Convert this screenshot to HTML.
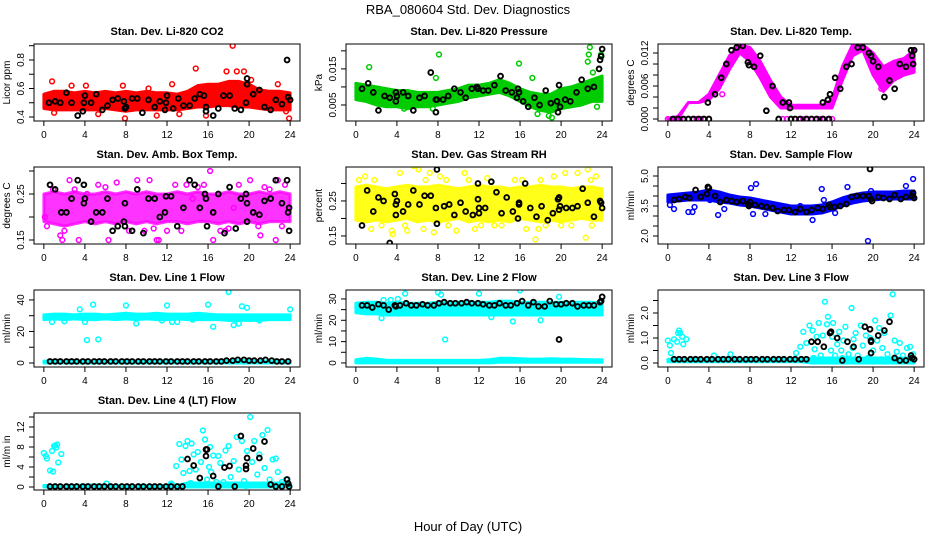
<!DOCTYPE html>
<html><head><meta charset="utf-8"><style>
html,body{margin:0;padding:0;background:#fff;}
svg{display:block;font-family:"Liberation Sans",sans-serif;}
</style></head><body>
<svg id="chart" width="936" height="540" viewBox="0 0 936 540" xmlns="http://www.w3.org/2000/svg">
<rect x="0" y="0" width="936" height="540" fill="#fff"/>
<text x="468" y="14" font-size="13" text-anchor="middle">RBA_080604  Std. Dev. Diagnostics</text>
<text x="468" y="531" font-size="13" text-anchor="middle">Hour of Day (UTC)</text>
</svg>
<script>
const HRS=[0,1,2,3,4,5,6,7,8,9,10,11,12,13,14,15,16,17,18,19,20,21,22,23,24];
const XTICKS=[0,4,8,12,16,20,24];
const FULLT=[0.6,1.1,1.6,2.2,2.7,3.2,3.8,4.3,4.9,5.4,5.9,6.5,7.0,7.6,8.1,8.6,9.2,9.7,10.3,10.8,11.3,11.9,12.4,13.0,13.5,14.0,14.6,15.1,15.7,16.2,16.8,17.3,17.8,18.4,18.9,19.5,20.0,20.5,21.1,21.6,22.2,22.7,23.2,23.8];
const EARLYT=[0.6,1.1,1.6,2.2,2.7,3.2,3.8,4.3,4.9,5.4,5.9,6.5,7.0,7.6,8.1,8.6,9.2,9.7,10.3,10.8,11.3,11.9,12.4,13.0,13.5];

// CO2
const co2Lo=[0.46,0.45,0.45,0.45,0.45,0.45,0.46,0.45,0.44,0.45,0.45,0.45,0.45,0.45,0.46,0.47,0.47,0.48,0.48,0.47,0.47,0.46,0.45,0.45,0.45];
const co2Hi=[0.56,0.58,0.58,0.57,0.58,0.57,0.58,0.57,0.58,0.57,0.58,0.57,0.57,0.56,0.58,0.62,0.63,0.63,0.65,0.65,0.63,0.59,0.58,0.58,0.57];
const co2OutX=[0.8,2.7,4.1,7.7,10.2,12.5,14.8,17.8,18.4,18.8,19.5,20.2,22.8,23.9,7.9,11.0,15.8,5.3,1.0,13.2,23.6];
const co2OutY=[0.65,0.62,0.62,0.62,0.6,0.63,0.74,0.72,0.9,0.72,0.72,0.66,0.63,0.39,0.39,0.41,0.41,0.42,0.43,0.42,0.44];
const co2BlkX=[0.5,1.1,1.6,2.2,2.7,3.3,3.8,3.9,4.0,4.6,5.1,5.7,6.2,6.7,7.2,7.8,7.9,8.0,8.6,9.1,9.6,10.2,10.8,11.3,11.8,11.9,12.0,12.6,13.1,13.6,14.2,14.7,15.2,15.6,15.8,15.8,16.5,17.0,17.5,18.1,18.6,19.2,19.7,19.8,19.8,20.4,21.0,21.5,22.1,22.6,23.2,23.7,23.8,24.0];
const co2BlkY=[0.5,0.51,0.5,0.57,0.5,0.41,0.44,0.5,0.55,0.5,0.56,0.45,0.48,0.52,0.53,0.51,0.46,0.47,0.53,0.53,0.43,0.52,0.47,0.51,0.45,0.5,0.55,0.46,0.53,0.48,0.48,0.53,0.56,0.55,0.47,0.44,0.41,0.46,0.55,0.55,0.46,0.45,0.5,0.67,0.63,0.56,0.59,0.47,0.45,0.52,0.49,0.8,0.54,0.52];

// Pressure
const prLo=[0.0065,0.006,0.005,0.0045,0.0045,0.004,0.0045,0.0045,0.005,0.0055,0.006,0.007,0.0075,0.008,0.0085,0.0075,0.006,0.0045,0.0035,0.003,0.004,0.0045,0.005,0.006,0.006];
const prHi=[0.011,0.0105,0.01,0.0095,0.009,0.009,0.0085,0.0085,0.0085,0.009,0.0095,0.0105,0.0105,0.011,0.012,0.011,0.0095,0.0085,0.008,0.008,0.0095,0.01,0.011,0.012,0.013];
const prOutX=[1.3,8.1,7.8,15.9,17.2,22.7,22.8,22.6,23.1,23.9,23.5,18.8,19.1,17.7,4.7,7.5];
const prOutY=[0.0155,0.019,0.0125,0.0165,0.0125,0.019,0.021,0.017,0.014,0.019,0.0045,0.002,0.0015,0.0025,0.004,0.004];
const prBlkX=[0.6,1.2,1.7,2.2,2.8,3.3,3.9,3.9,4.0,4.6,5.1,5.6,6.2,6.7,7.3,7.8,7.8,7.9,8.5,9.0,9.6,10.2,10.7,11.3,11.8,11.9,12.4,12.9,13.5,14.1,14.6,15.2,15.7,15.8,15.9,16.3,16.8,17.4,17.9,18.5,19.0,19.6,19.7,19.8,19.9,20.4,20.9,21.5,22.0,22.6,23.2,23.7,23.8,23.9,24.0];
const prBlkY=[0.0095,0.011,0.0085,0.0035,0.0075,0.007,0.0085,0.006,0.0075,0.0085,0.0075,0.0035,0.007,0.0075,0.014,0.0065,0.003,0.0065,0.0065,0.0075,0.0095,0.0085,0.007,0.0095,0.01,0.0095,0.009,0.009,0.0105,0.013,0.009,0.0085,0.007,0.0095,0.0085,0.006,0.0045,0.007,0.005,0.009,0.0055,0.006,0.003,0.0105,0.0045,0.0065,0.006,0.0085,0.012,0.0095,0.01,0.015,0.0175,0.0185,0.0205];

// Li-820 Temp
const ltLo=[0,0,0.003,0.003,0.0035,0.0055,0.009,0.012,0.0105,0.0075,0.004,0.002,0.002,0.002,0.002,0.002,0.002,0.007,0.0115,0.0125,0.008,0.005,0.007,0.008,0.0085];
const ltHi=[0,0.0005,0.003,0.003,0.0045,0.008,0.0115,0.0135,0.013,0.0105,0.007,0.004,0.0025,0.0025,0.0025,0.0025,0.0035,0.0095,0.0135,0.0135,0.012,0.0095,0.0105,0.011,0.0125];
const ltOutX=[0,0.4,0.8,1.2,1.6,2.0,2.4,2.8,3.2,3.6,4.0,10.8,11.2,11.6,12.0,12.4,12.8,13.2,13.6,14.0,14.4,14.8,15.2,15.6,16.0,5.3,9.6,20.8];
const ltOutY=[0,0,0,0,0,0,0,0,0,0,0,0,0,0,0,0,0,0,0,0,0,0,0,0,0,0.0045,0.0015,0.0055];
const ltBlkX=[0.5,1.0,1.5,2.0,2.5,3.0,3.5,4.0,3.9,4.6,5.2,5.7,6.2,6.7,7.3,7.8,7.9,8.4,9.0,9.6,10.2,10.8,11.2,11.8,11.9,12.0,12.4,12.9,13.5,14.0,14.5,15.1,15.7,15.1,15.6,15.8,16.3,16.8,17.4,17.9,18.5,19.0,19.6,19.8,20.0,20.5,21.1,21.6,22.1,22.6,23.2,23.7,23.8,23.9,24.0];
const ltBlkY=[0,0,0,0,0,0,0,0,0.003,0.0045,0.0075,0.01,0.0125,0.013,0.0133,0.0103,0.0098,0.0095,0.0115,0.0015,0.006,0,0.003,0.003,0.002,0,0,0,0,0,0,0,0,0.003,0.0035,0.0045,0.0075,0.0055,0.0095,0.01,0.013,0.013,0.012,0.0115,0.0105,0.0095,0.004,0.007,0.0055,0.01,0.0095,0.0125,0.0115,0.01,0.0125];

// Amb box temp
const btLo=[0.19,0.185,0.18,0.185,0.19,0.185,0.19,0.185,0.19,0.185,0.19,0.185,0.19,0.19,0.185,0.19,0.19,0.185,0.19,0.185,0.19,0.185,0.19,0.19,0.19];
const btHi=[0.25,0.255,0.25,0.255,0.25,0.25,0.255,0.25,0.255,0.25,0.255,0.25,0.25,0.255,0.25,0.255,0.25,0.25,0.255,0.25,0.25,0.255,0.25,0.255,0.25];
const btOutX=[0.1,0.3,0.6,1.6,1.8,2.5,3.4,4.2,6.3,7.1,7.9,9.1,10.3,11.0,11.2,12.0,14.5,15.6,16.2,16.5,18.5,19.0,20.1,21.1,22.0,22.6,22.8,23.5,0.9,5.3,8.3,13.4,17.7,20.9,2.0,6.0,9.8,12.8,15.0,18.0,21.5,3.0,10.7,13.9,17.2,23.2];
const btOutY=[0.2,0.18,0.27,0.16,0.15,0.28,0.15,0.25,0.15,0.275,0.18,0.28,0.28,0.15,0.15,0.17,0.24,0.27,0.30,0.15,0.22,0.27,0.28,0.16,0.26,0.15,0.28,0.27,0.26,0.27,0.17,0.17,0.17,0.18,0.17,0.265,0.17,0.27,0.265,0.175,0.265,0.26,0.175,0.27,0.17,0.18];
const btBlkX=[0.6,1.1,1.7,2.2,2.7,3.3,3.9,3.9,4.0,4.6,5.1,5.7,6.2,6.7,7.2,7.8,7.9,7.9,8.6,9.1,9.7,10.2,10.8,11.3,11.8,11.9,12.4,13.0,13.6,14.2,14.7,15.2,15.7,15.8,15.9,16.5,17.0,17.6,18.1,18.7,19.2,19.7,19.8,19.8,20.4,21.0,21.5,22.1,22.6,23.2,23.7,23.8,23.9,23.9];
const btBlkY=[0.27,0.26,0.21,0.21,0.24,0.28,0.27,0.23,0.24,0.19,0.21,0.21,0.24,0.17,0.18,0.19,0.23,0.18,0.17,0.26,0.165,0.24,0.24,0.2,0.21,0.245,0.245,0.18,0.22,0.28,0.27,0.22,0.25,0.24,0.18,0.21,0.25,0.165,0.265,0.175,0.24,0.25,0.23,0.19,0.21,0.205,0.235,0.24,0.28,0.23,0.28,0.21,0.22,0.17];

// Gas stream RH
const rhLo=[0.195,0.19,0.195,0.19,0.195,0.2,0.19,0.195,0.19,0.195,0.2,0.19,0.195,0.19,0.195,0.19,0.2,0.195,0.19,0.195,0.19,0.195,0.2,0.195,0.195];
const rhHi=[0.29,0.295,0.29,0.285,0.29,0.295,0.29,0.29,0.295,0.29,0.285,0.29,0.295,0.29,0.29,0.285,0.29,0.29,0.295,0.29,0.29,0.285,0.29,0.29,0.285];
const rhOutX=[0.9,1.5,3.5,3.6,4.3,5.0,5.6,6.1,6.6,7.2,7.6,8.2,9.8,10.6,11.6,12.8,14.2,16.6,17.5,17.8,18.5,20.4,21.6,22.4,22.6,23.4,19.3,0.3,2.5,6.8,9.0,11.0,13.5,15.5,18.0,21.0,23.0,1.8,4.8,8.8,12.2,16.2,20.0,22.9];
const rhOutY=[0.32,0.17,0.165,0.155,0.33,0.165,0.35,0.34,0.17,0.33,0.16,0.32,0.165,0.33,0.17,0.315,0.18,0.17,0.14,0.17,0.18,0.33,0.33,0.145,0.34,0.32,0.32,0.31,0.18,0.31,0.18,0.31,0.18,0.31,0.31,0.18,0.18,0.31,0.18,0.31,0.18,0.31,0.18,0.31];
const rhBlkX=[0.6,1.1,1.7,2.2,2.7,3.3,3.8,3.9,3.9,4.0,4.6,5.1,5.6,6.2,6.7,7.3,7.8,7.9,8.0,7.9,8.6,9.1,9.6,10.2,10.7,11.4,11.9,11.9,12.0,12.0,12.6,13.2,13.7,14.2,14.7,15.3,15.8,15.9,15.9,16.5,17.0,17.6,18.1,18.7,19.2,19.7,19.8,19.9,19.8,20.5,21.1,21.6,22.1,22.6,23.2,23.8,23.9,24.0];
const rhBlkY=[0.18,0.28,0.22,0.26,0.25,0.13,0.27,0.24,0.21,0.25,0.22,0.24,0.28,0.24,0.265,0.265,0.23,0.34,0.355,0.185,0.235,0.24,0.21,0.245,0.22,0.21,0.3,0.255,0.23,0.215,0.23,0.305,0.275,0.215,0.26,0.22,0.2,0.245,0.24,0.3,0.23,0.205,0.235,0.195,0.215,0.255,0.26,0.235,0.225,0.23,0.23,0.235,0.285,0.245,0.205,0.25,0.245,0.23];

// Sample flow
const sfLo=[3.7,3.75,3.8,3.8,3.8,3.7,3.65,3.55,3.5,3.4,3.3,3.2,3.1,3.1,3.1,3.15,3.3,3.5,3.65,3.75,3.8,3.85,3.85,3.85,3.85];
const sfHi=[4.05,4.1,4.15,4.2,4.3,4.2,4.05,3.95,3.9,3.8,3.7,3.6,3.5,3.5,3.5,3.55,3.7,3.9,4.05,4.15,4.2,4.2,4.2,4.25,4.25];
const sfOutX=[0.2,0.6,2.0,2.4,2.6,4.1,4.9,5.5,8.1,8.6,8.3,9.5,12.9,14.1,14.2,15.0,15.2,16.3,17.5,19.5,19.8,23.2,23.9];
const sfOutY=[3.55,3.35,3.2,3.2,3.45,3.8,3.05,3.35,4.4,4.6,3.1,3.1,3.5,2.8,3.3,4.35,3.8,3.15,4.45,1.75,4.25,4.5,4.85];
const sfBlkX=[0.6,1.1,1.7,2.1,2.7,3.2,3.9,4.0,3.8,4.6,5.1,5.7,6.2,6.7,7.3,7.8,7.9,8.0,8.5,9.1,9.6,10.2,10.7,11.3,11.8,12.4,12.9,13.5,14.0,14.6,15.1,15.7,15.8,16.2,16.8,17.4,17.9,18.4,19.0,19.6,19.7,19.8,19.9,20.5,21.0,21.6,22.1,22.7,23.2,23.8,23.9,24.0];
const sfBlkY=[3.8,3.85,3.95,3.9,4.3,3.95,4.45,4.4,4.1,4.0,3.7,3.8,3.75,3.7,3.75,3.6,3.5,3.7,3.55,3.5,3.45,3.4,3.25,3.3,3.3,3.2,3.35,3.2,3.3,3.4,3.35,3.55,3.45,3.45,3.5,3.6,3.95,4.0,4.0,4.0,5.35,3.85,3.75,3.95,3.9,3.85,4.05,3.85,3.95,4.0,4.15,3.9];

// Line 1 flow
const l1UpLo=[27.5,28,27.5,28,27.5,27.5,28,27.5,28,27.5,28,27.5,27.5,28,27.5,27.5,27.5,27.5,27,27,27,27,27.5,27.5,27.5];
const l1UpHi=[30.5,31,31,30.5,31,31,30.5,31,31.5,31,31,31.5,31,31,31,31.5,31,30.5,30.5,30.5,30.5,30.5,30.5,30.5,30.5];
const l1LoLo=[0,0,0,0,0,0,0,0,0,0,0,0,0,0,0,0,0,0,0,0,0,0,0,0,0];
const l1LoHi=[1.2,1.2,1.2,1.2,1.2,1.2,1.2,1.2,1.2,1.2,1.2,1.2,1.2,1.2,1.2,1.2,1.2,1.5,1.5,1.5,1.5,1.5,1.2,1.2,1.2];
const l1OutX=[3.5,4.0,4.2,4.8,5.3,8.0,9.0,12.0,12.5,13.0,16.0,16.5,18.0,18.5,19.0,19.3,19.8,24.0,0.8,2.0,11.5,14.5,21.0];
const l1OutY=[34,26,14.5,37,15,36.5,25,36.5,26,26,37,23,45,24,25,36,35,34,26,26.5,27,27.5,27];
const l1BlkY=[1,1,1,1,1,1,1,1,1,1,1,1,1,1,1,1,1,1,1,1,1,1,1,1,1,1,1,1,1,1,1,1,1.5,1.5,2,2,1.5,1.5,1.5,2,1.5,1,1,1];

// Line 2 flow
const l2UpLo=[23.5,23,23,22.5,22.5,22.5,22.5,22.5,22.5,22.5,22.5,22.5,22.5,22.5,22.5,22.5,22.5,22.5,22.5,22.5,22.5,22.5,22.5,22.5,22.5];
const l2UpHi=[28,28.5,28.5,28,28.5,28,28,28,28.5,28.5,28.5,28.5,28.5,28.5,29,29,28.5,28.5,28.5,28.5,28.5,28.5,28.5,28.5,28];
const l2LoLo=[0,0,0,0,0,0,0,0,0,0,0,0,0,0,0.3,0.3,0.3,0.3,0.3,0.3,0.3,0.3,0.3,0.3,0.3];
const l2LoHi=[1.5,2.2,1.8,1.3,1.2,1.2,1.2,1.2,1.2,1.2,1.2,1.2,1.2,1.5,2.2,2.2,2,1.8,1.8,2,1.8,1.8,1.6,1.5,1.5];
const l2OutX=[2.5,2.7,3.4,4.1,4.8,8.0,8.3,8.7,12.0,13.2,16.0,15.3,18.0,19.8,24.0];
const l2OutY=[21,29.5,29.5,30,32.5,33,32,11,32.5,21.5,34,19.5,20,31,31];
const l2BlkY=[27,27,26,27.5,27,25,27,27,28,27,27,27.5,27,27,28,28.5,28,28,28,28.5,28,28,27.5,27,27,28,27,27,28,29,27,28.5,26.5,26.5,29,27.5,27.5,28,28,26.5,27,27,27,28.5];
const l2ExtraX=[3.9,19.8,24.0,23.9];
const l2ExtraY=[26.5,11,31,29];

// Line 3 flow
const l3BandLo=[0.05,0.05,0.05,0.05,0.05,0.05,0.05,0.05,0.05,0.05,0.05,0.05,0.05,0.05,0,0,0,0,0,0,0,0,0,0,0];
const l3BandHi=[0.15,0.15,0.15,0.15,0.15,0.2,0.15,0.15,0.15,0.15,0.15,0.15,0.15,0.15,0.2,0.2,0.2,0.2,0.2,0.2,0.2,0.2,0.2,0.2,0.2];
const l3OutX=[12.5,12.9,13.2,13.5,13.8,14.1,14.3,14.5,14.7,14.9,15.1,15.3,15.5,15.6,15.9,16.1,16.3,16.5,16.7,16.9,17.1,17.3,17.6,17.9,18.1,18.3,18.5,18.8,19.0,19.3,19.5,19.7,20.0,20.2,20.4,20.6,20.9,21.1,21.4,21.7,21.9,22.1,22.3,22.6,22.9,23.3,23.6,23.9,16.0,18.0,20.8,14.2,15.0,17.0,0.0,0.2,0.3,0.6,0.9,1.1,1.2,1.4,1.5,1.8,1.0,4.5,6.1];
const l3OutY=[0.4,0.65,1.25,0.8,1.5,1.3,0.55,1.05,1.6,0.3,1.1,2.45,1.55,1.85,0.5,1.6,0.3,0.75,1.25,0.5,0.9,1.45,0.35,2.2,0.95,1.2,0.3,1.5,0.7,1.1,0.2,1.0,0.5,1.7,0.9,1.4,0.6,1.2,0.35,1.9,2.75,0.9,0.45,0.8,0.3,0.6,0.65,0.35,1.05,0.6,0.15,0.2,0.15,0.2,0.9,0.7,0.4,0.95,0.85,1.3,1.2,1.05,0.75,0.95,1.2,0.3,0.35];
const l3EarlyY=[0.15,0.15,0.15,0.15,0.15,0.15,0.15,0.15,0.15,0.15,0.15,0.15,0.15,0.15,0.15,0.15,0.15,0.15,0.15,0.15,0.15,0.15,0.15,0.15,0.15];
const l3BlkX=[14.0,14.6,15.2,15.8,15.9,16.5,17.0,17.5,18.1,18.6,19.2,19.7,19.8,19.8,19.8,20.5,21.1,21.6,22.1,22.6,23.2,23.7,23.8,24.0];
const l3BlkY=[0.85,0.85,0.65,1.2,1.25,1.0,0.1,0.85,0.65,0.15,1.45,1.35,0.4,0.9,0.85,1.1,1.3,1.65,0.2,0.1,0.1,0.3,0.2,0.15];

// Line 4 flow
const l4BandLo=[0,0,0,0,0,0,0,0,0,0,0,0,0,0,0,0,0,0,0,0,0,0,0,0,0];
const l4BandHi=[0.3,0.3,0.3,0.3,0.4,0.4,0.3,0.3,0.3,0.3,0.3,0.3,0.3,0.3,0.8,0.8,0.8,0.8,0.8,0.8,0.8,0.8,0.8,0.8,0.8];
const l4OutX=[12.5,12.9,13.2,13.4,13.6,13.8,14.0,14.2,14.4,14.6,14.8,15.0,15.3,15.5,15.7,15.9,16.1,16.3,16.5,16.8,17.0,17.2,17.5,17.7,18.0,18.2,18.5,18.8,19.0,19.3,19.5,19.8,20.1,20.3,20.5,20.8,21.0,21.3,21.5,21.8,22.0,22.3,22.6,22.8,23.2,23.6,23.9,16.2,17.8,14.3,19.7,21.6,0.0,0.2,0.3,0.6,0.8,0.9,1.0,1.1,1.2,1.3,1.4,1.7,6.1,12.4];
const l4OutY=[0.5,4.2,8.6,5.5,2.8,8.2,9.2,3.2,8.7,6.5,3.5,7.0,5.0,11.3,9.5,1.5,4.0,3.0,6.3,1.0,6.2,4.8,1.0,7.3,8.2,2.0,5.2,10.0,3.5,9.2,1.2,7.2,14.0,5.0,9.2,2.5,6.5,10.4,3.8,11.4,1.5,5.5,5.7,3.0,1.0,1.5,0.5,8.0,0.5,0.8,0.2,0.3,6.8,6.2,5.7,3.3,7.2,3.1,8.2,8.3,7.9,8.5,4.9,6.6,0.7,0.7];
const l4EarlyY=[0.1,0.1,0.1,0.1,0.1,0.1,0.1,0.1,0.1,0.1,0.1,0.1,0.1,0.1,0.1,0.1,0.1,0.1,0.1,0.1,0.1,0.1,0.1,0.1,0.1];
const l4BlkX=[14.0,14.6,15.2,15.8,15.8,15.9,16.5,17.0,17.6,18.1,18.6,19.2,19.7,19.7,19.8,20.4,21.0,21.5,22.1,22.6,23.2,23.7,23.8,23.9];
const l4BlkY=[5.6,4.3,1.8,7.5,6.2,7.5,2.2,0.1,3.9,4.2,0.1,10.2,3.6,4.3,5.8,7.7,5.8,9.1,0.5,0.1,0.1,1.5,0.7,0.1];

const SVGNS="http://www.w3.org/2000/svg";
const svg=document.getElementById('chart');
function mk(tag,attrs,parent){const e=document.createElementNS(SVGNS,tag);for(const k in attrs)e.setAttribute(k,attrs[k]);(parent||svg).appendChild(e);return e;}

const W=266,H=77;
const panels=[
 {name:'co2',title:'Stan. Dev. Li-820 CO2',yl:'Licor ppm',L:34,T:44,ymin:0.372,ymax:0.912,ticks:[0.4,0.5,0.6,0.7,0.8,0.9],labs:['0.4','','0.6','','0.8',''],col:'#ff0000',
  bands:[[co2Lo,co2Hi]],out:[[co2OutX,co2OutY]],blk:[[co2BlkX,co2BlkY]]},
 {name:'pressure',title:'Stan. Dev. Li-820 Pressure',yl:'kPa',L:346,T:44,ymin:0.00056,ymax:0.0219,ticks:[0.005,0.01,0.015,0.02],labs:['0.005','','0.015',''],col:'#00cc00',
  bands:[[prLo,prHi]],out:[[prOutX,prOutY]],blk:[[prBlkX,prBlkY]]},
 {name:'temp',title:'Stan. Dev. Li-820 Temp.',yl:'degrees C',L:658,T:44,ymin:-0.00036,ymax:0.01364,ticks:[0,0.002,0.004,0.006,0.008,0.01,0.012],labs:['0.000','','','0.006','','','0.012'],col:'#ff00ff',
  bands:[[ltLo,ltHi]],out:[[ltOutX,ltOutY]],blk:[[ltBlkX,ltBlkY]]},
 {name:'box-temp',title:'Stan. Dev. Amb. Box Temp.',yl:'degrees C',L:34,T:167,ymin:0.1413,ymax:0.3087,ticks:[0.15,0.2,0.25,0.3],labs:['0.15','','0.25',''],col:'#ff00ff',op:0.8,
  bands:[[btLo,btHi]],out:[[btOutX,btOutY]],blk:[[btBlkX,btBlkY]]},
 {name:'rh',title:'Stan. Dev. Gas Stream RH',yl:'percent',L:346,T:167,ymin:0.127,ymax:0.347,ticks:[0.15,0.2,0.25,0.3],labs:['0.15','','0.25',''],col:'#ffff00',op:0.9,
  bands:[[rhLo,rhHi]],out:[[rhOutX,rhOutY]],blk:[[rhBlkX,rhBlkY]]},
 {name:'sample-flow',title:'Stan. Dev. Sample Flow',yl:'ml/min',L:658,T:167,ymin:1.6,ymax:5.45,ticks:[2,2.5,3,3.5,4,4.5,5],labs:['2.0','','','3.5','','','5.0'],col:'#0000ff',
  bands:[[sfLo,sfHi]],out:[[sfOutX,sfOutY]],blk:[[sfBlkX,sfBlkY]]},
 {name:'line1-flow',title:'Stan. Dev. Line 1 Flow',yl:'ml/min',L:34,T:290,ymin:-2.54,ymax:46.3,ticks:[0,10,20,30,40],labs:['0','','20','','40'],col:'#00ffff',
  bands:[[l1UpLo,l1UpHi],[l1LoLo,l1LoHi]],out:[[l1OutX,l1OutY]],blk:[[FULLT,l1BlkY]]},
 {name:'line2-flow',title:'Stan. Dev. Line 2 Flow',yl:'ml/min',L:346,T:290,ymin:-1.9,ymax:34.2,ticks:[0,5,10,15,20,25,30],labs:['0','','10','','20','','30'],col:'#00ffff',
  bands:[[l2UpLo,l2UpHi],[l2LoLo,l2LoHi]],out:[[l2OutX,l2OutY]],blk:[[FULLT,l2BlkY],[l2ExtraX,l2ExtraY]]},
 {name:'line3-flow',title:'Stan. Dev. Line 3 Flow',yl:'ml/min',L:658,T:290,ymin:-0.16,ymax:2.92,ticks:[0,0.5,1,1.5,2,2.5],labs:['0.0','','1.0','','2.0',''],col:'#00ffff',
  bands:[[l3BandLo,l3BandHi]],out:[[l3OutX,l3OutY]],blk:[[EARLYT,l3EarlyY],[l3BlkX,l3BlkY]]},
 {name:'line4-flow',title:'Stan. Dev. Line 4 (LT) Flow',yl:'ml/m in',L:34,T:413,ymin:-0.6,ymax:14.8,ticks:[0,2,4,6,8,10,12,14],labs:['0','','4','','8','','12',''],col:'#00ffff',
  bands:[[l4BandLo,l4BandHi]],out:[[l4OutX,l4OutY]],blk:[[EARLYT,l4EarlyY],[l4BlkX,l4BlkY]]}
];

panels.forEach(p=>{
  const g=mk('g',{});
  
  
  const B=p.T+H;
  const sx=h=>p.L+(h+0.96)*W/25.92;
  const sy=v=>B-(v-p.ymin)/(p.ymax-p.ymin)*H;
  const clipId='clip-'+p.name;
  const cp=mk('clipPath',{id:clipId},g);
  mk('rect',{x:p.L,y:p.T,width:W,height:H},cp);
  const plot=mk('g',{'clip-path':'url(#'+clipId+')'},g);
  
  
  p.bands.forEach(b=>{
    const lo=b[0],hi=b[1];
    let pts=[];
    HRS.forEach((h,i)=>pts.push(sx(h).toFixed(1)+','+sy(hi[i]).toFixed(1)));
    for(let i=HRS.length-1;i>=0;i--)pts.push(sx(HRS[i]).toFixed(1)+','+sy(lo[i]).toFixed(1));
    const poly=mk('polygon',{points:pts.join(' '),fill:p.col,stroke:p.col,'stroke-width':3,'stroke-linejoin':'round','fill-opacity':p.op||1,'stroke-opacity':p.op||1},plot);
    
    
  });
  p.out.forEach(o=>{
    o[0].forEach((x,i)=>{
      const c=mk('circle',{cx:sx(x),cy:sy(o[1][i]),r:2.4,fill:'none',stroke:p.col,'stroke-width':1.5},plot);
      
      
    });
  });
  p.blk.forEach(o=>{
    o[0].forEach((x,i)=>{
      const c=mk('circle',{cx:sx(x),cy:sy(o[1][i]),r:2.4,fill:'none',stroke:'#000','stroke-width':1.9},plot);
      
      
    });
  });
  const box=mk('rect',{x:p.L,y:p.T,width:W,height:H,fill:'none',stroke:'#000','stroke-width':1},g);
  
  
  const t=mk('text',{x:p.L+W/2,y:p.T-9,'font-size':11,'font-weight':'bold','text-anchor':'middle'},g);
  t.textContent=p.title;
  
  
  const xa=mk('g',{},g);
  
  
  XTICKS.forEach(h=>{
    mk('line',{x1:sx(h),x2:sx(h),y1:B,y2:B+5,stroke:'#000','stroke-width':1},xa);
    const tl=mk('text',{x:sx(h),y:B+17,'font-size':10,'text-anchor':'middle'},xa);
    tl.textContent=h;
    
    
  });
  const ya=mk('g',{},g);
  
  
  mk('line',{x1:p.L,x2:p.L,y1:sy(p.ticks[0]),y2:sy(p.ticks[p.ticks.length-1]),stroke:'#000','stroke-width':1},ya);
  p.ticks.forEach((v,i)=>{
    mk('line',{x1:p.L-5,x2:p.L,y1:sy(v),y2:sy(v),stroke:'#000','stroke-width':1},ya);
    if(p.labs[i]){
      const tl=mk('text',{x:p.L-10,y:sy(v),'font-size':10,'text-anchor':'middle',transform:'rotate(-90 '+(p.L-10)+' '+sy(v)+')'},ya);
      tl.textContent=p.labs[i];
      
      
    }
  });
  const yx=p.L-24, yy=p.T+H/2;
  const yl=mk('text',{x:yx,y:yy,'font-size':10,'text-anchor':'middle',transform:'rotate(-90 '+yx+' '+yy+')'},g);
  yl.textContent=p.yl;
  
  
});
</script>
</body></html>
